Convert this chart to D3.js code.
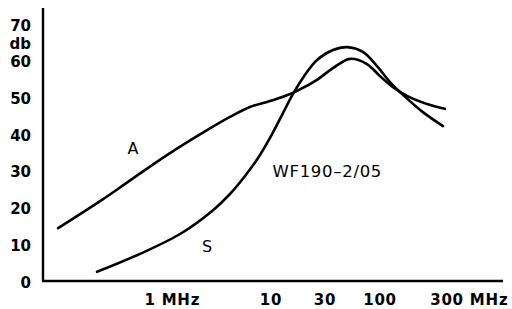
<!DOCTYPE html>
<html>
<head>
<meta charset="utf-8">
<script src="https://cdn.jsdelivr.net/npm/d3@7"></script>
<style>
  html, body { margin: 0; padding: 0; background: #fff; }
  svg { display: block; }
</style>
</head>
<body>
<svg id="chart" width="512" height="309"></svg>
<script>
// ---- data ----
const xTickValues = [1, 10, 30, 100, 300];
const xTickLabels = ["1 MHz", "10", "30", "100", "300 MHz"];
const yTickValues = [0, 10, 20, 30, 40, 50, 60, 70];
const yUnit = "db";

// curve A (frequency in MHz, level in db)
const aFreq  = [0.174, 0.401, 0.658, 1.38, 2.96, 4.58, 6.70, 9.81, 13.3, 17.0, 25.5, 35.7, 51.8, 75.1, 100, 123.8, 155.7, 216, 290];
const aLevel = [14.4, 22.1, 27.0, 34.3, 41.1, 44.7, 47.4, 49.0, 50.4, 51.8, 54.8, 58.0, 60.5, 59.1, 55.8, 52.8, 50.4, 48.2, 46.9];
// curve S
const sFreq  = [0.365, 0.827, 1.77, 3.32, 4.58, 6.10, 7.81, 9.81, 12.5, 15.6, 19.6, 25.5, 35.7, 48.5, 68.7, 93.3, 117.8, 145.8, 202, 281];
const sLevel = [2.5, 7.4, 12.8, 19.3, 23.7, 28.6, 33.5, 39.0, 45.2, 50.9, 55.8, 60.2, 62.9, 63.7, 62.4, 58.6, 54.2, 50.7, 46.0, 42.2];

const curveLabels = [
  { name: "A", f: 0.724, v: 35.7 },
  { name: "S", f: 2.96, v: 9.0 }
];
const noteText = "WF190\u20132/05";
const noteAt = { f: 10.3, v: 29.5 };

// ---- drawing ----
(function () {
const svg = d3.select("#chart");
const mLeft = 43, mBottom = 281, mTop = 8, mRight = 503;

// hand-drawn axis: tick spacing is not exactly uniform, so a polylinear log scale
const x = d3.scaleLog().domain(xTickValues).range([150, 271, 325, 380, 447]);
const y = d3.scaleLinear().domain([0, 70]).range([mBottom, 24]);

const ink = "#000";

// axes lines
svg.append("line").attr("x1", mLeft).attr("x2", mLeft).attr("y1", mTop).attr("y2", mBottom)
  .attr("stroke", ink).attr("stroke-width", 2.4);
svg.append("line").attr("x1", mLeft - 1).attr("x2", mRight).attr("y1", mBottom).attr("y2", mBottom)
  .attr("stroke", ink).attr("stroke-width", 2.4);

// y tick labels
svg.append("g").selectAll("text").data(yTickValues).join("text")
  .attr("x", 31).attr("y", d => y(d) + 2)
  .attr("text-anchor", "end").attr("dominant-baseline", "middle")
  .attr("font-family", "DejaVu Sans, sans-serif").attr("font-weight", "bold")
  .attr("font-size", 15).attr("fill", ink)
  .text(d => d);

svg.append("text")
  .attr("x", 31).attr("y", (y(70) + y(60)) / 2 + 2)
  .attr("text-anchor", "end").attr("dominant-baseline", "middle")
  .attr("font-family", "DejaVu Sans, sans-serif").attr("font-weight", "bold")
  .attr("font-size", 15).attr("fill", ink)
  .text(yUnit);

// x tick labels: numeric part centred on the tick
const xl = svg.append("g").selectAll("g").data(xTickValues).join("g")
  .attr("transform", d => `translate(${x(d)},${mBottom + 24})`);
xl.each(function(d, i) {
  const lab = xTickLabels[i];
  const parts = lab.split(" ");
  const t = d3.select(this).append("text")
    .attr("font-family", "DejaVu Sans, sans-serif").attr("font-weight", "bold")
    .attr("font-size", 15).attr("fill", ink).attr("letter-spacing", 0.8);
  t.text(parts[0]);
  const numW = t.node().getComputedTextLength();
  t.attr("x", -numW / 2);
  if (parts.length > 1) t.text(lab);
});

// curves
const line = d3.line()
  .x(d => x(d[0])).y(d => y(d[1]))
  .curve(d3.curveCatmullRom.alpha(0.5));

const seriesA = aFreq.map((f, i) => [f, aLevel[i]]);
const seriesS = sFreq.map((f, i) => [f, sLevel[i]]);

[seriesA, seriesS].forEach(s => {
  svg.append("path").datum(s).attr("d", line)
    .attr("fill", "none").attr("stroke", ink).attr("stroke-width", 2.6)
    .attr("stroke-linecap", "round").attr("stroke-linejoin", "round");
});

// curve labels
svg.append("g").selectAll("text").data(curveLabels).join("text")
  .attr("x", d => x(d.f)).attr("y", d => y(d.v))
  .attr("text-anchor", "middle").attr("dominant-baseline", "middle")
  .attr("font-family", "DejaVu Sans, sans-serif").attr("font-size", 16).attr("fill", ink)
  .text(d => d.name);

svg.append("text")
  .attr("x", x(noteAt.f)).attr("y", y(noteAt.v))
  .attr("dominant-baseline", "middle")
  .attr("font-family", "DejaVu Sans, sans-serif").attr("font-size", 16.5)
  .attr("letter-spacing", 0.7).attr("fill", ink)
  .text(noteText);
})();
</script>
</body>
</html>
